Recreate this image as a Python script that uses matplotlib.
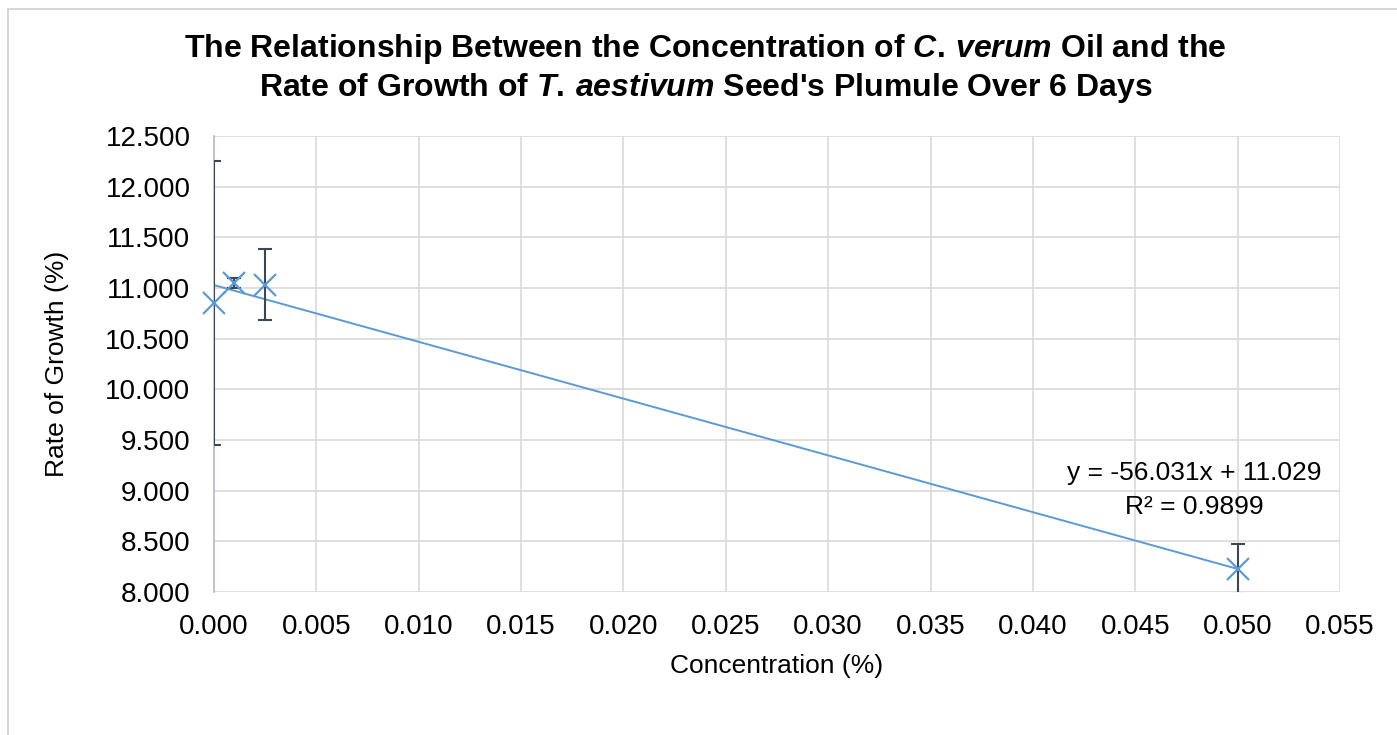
import numpy as np
import matplotlib.pyplot as plt
from matplotlib.patches import Rectangle

plt.rcParams['font.family'] = ['Liberation Sans', 'DejaVu Sans']
plt.rcParams['mathtext.fontset'] = 'custom'
plt.rcParams['mathtext.it'] = 'Liberation Sans:bold:italic'
plt.rcParams['mathtext.rm'] = 'Liberation Sans:bold'

# data
conc = [0.0, 0.001, 0.0025, 0.05]
growth = [10.853, 11.050, 11.030, 8.225]
err = [1.400, 0.050, 0.350, 0.245]
slope, intercept = -56.031, 11.029
r2 = 0.9899

fig = plt.figure(figsize=(13.97, 7.35), dpi=100)
ax = fig.add_axes([214 / 1397, 1 - 592 / 735, (1340 - 214) / 1397, (592 - 136) / 735])

# chart frame
fig.patches.append(Rectangle((8 / 1397, -0.05), 1.1, 1 - 9 / 735 + 0.05,
                             transform=fig.transFigure, fill=False,
                             edgecolor='#D0D0D0', linewidth=1.2))

blue = '#5B9BD5'
ax.errorbar(conc, growth, yerr=err, fmt='none', ecolor='#3B4656',
            elinewidth=1.5, capsize=5, capthick=1.5, zorder=3)
ax.plot(conc, growth, linestyle='none', marker='x', markersize=16,
        markeredgewidth=1.6, color=blue, zorder=4, clip_on=False)

xs = np.array([0.0, max(conc)])
ax.plot(xs, slope * xs + intercept, color=blue, linewidth=1.4, zorder=2)

ax.set_xlim(0, 0.055)
ax.set_ylim(8.0, 12.5)
ax.set_xticks(np.arange(0, 0.0551, 0.005))
ax.set_yticks(np.arange(8.0, 12.51, 0.5))
ax.set_xticklabels(['%.3f' % v for v in np.arange(0, 0.0551, 0.005)])
ax.set_yticklabels(['%.3f' % v for v in np.arange(8.0, 12.51, 0.5)])
ax.tick_params(axis='x', length=0, labelsize=20, pad=16, colors='#000000')
ax.tick_params(axis='y', length=0, labelsize=20, pad=17, colors='#000000')
ax.grid(True, color='#D9D9D9', linewidth=1.2)
ax.set_axisbelow(True)
for s in ['top', 'right', 'bottom']:
    ax.spines[s].set_visible(False)
ax.spines['left'].set_color('#B4BCCB')
ax.spines['left'].set_linewidth(1.2)

ax.set_xlabel('Concentration (%)', fontsize=19, labelpad=10)
ax.set_ylabel('Rate of Growth (%)', fontsize=19, labelpad=26)

fig.text(0.505, 1 - 49 / 735,
         r"The Relationship Between the Concentration of $C.\,verum$ Oil and the",
         ha='center', va='center', fontsize=23, fontweight='bold')
fig.text(0.505, 1 - 88 / 735,
         r"Rate of Growth of $T.\,aestivum$ Seed's Plumule Over 6 Days",
         ha='center', va='center', fontsize=23, fontweight='bold')

ax.text(0.0479, 9.17, 'y = %.3fx + %.3f' % (slope, intercept), ha='center',
        va='center', fontsize=19)
ax.text(0.0479, 8.84, 'R² = %.4f' % r2, ha='center', va='center', fontsize=19)

fig.savefig('out.png', dpi=100)
